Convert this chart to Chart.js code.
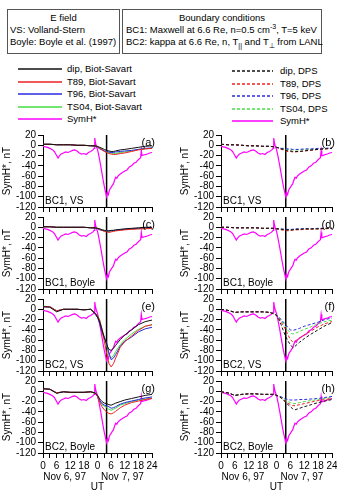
<!DOCTYPE html>
<html>
<head>
<meta charset="utf-8">
<script src="https://cdn.jsdelivr.net/npm/chart.js@4.4.1/dist/chart.umd.min.js"></script>
<style>
    body {
        margin: 0;
        width: 337px;
        height: 495px;
        position: relative;
        overflow: hidden;
        background: #fff;
        font-family: 'Liberation Sans', Arial, sans-serif;
        color: #000;
    }
    .box {
        position: absolute;
        top: 9px;
        height: 41px;
        border: 1px solid #555;
        font-size: 9.5px;
        line-height: 12px;
        padding-top: 2px;
        box-sizing: content-box;
        white-space: nowrap;
    }
    .box sup, .box sub { font-size: 7px; line-height: 0; }
    .leg {
        position: absolute;
        font-size: 9.5px;
        line-height: 12px;
        white-space: nowrap;
    }
    .leg svg { position: absolute; top: 0; }
    .leg span { position: absolute; top: -6px; }
    .panel { position: absolute; }
</style>
</head>
<body>
<div class="box" style="left:7px;width:111px;">
    <div style="text-align:center">E field</div>
    <div style="padding-left:2px">VS: Volland-Stern</div>
    <div style="padding-left:2px">Boyle: Boyle et al. (1997)</div>
</div>
<div class="box" style="left:122px;width:198px;">
    <div style="text-align:center">Boundary conditions</div>
    <div style="padding-left:3px">BC1: Maxwell at 6.6 Re, n=0.5 cm<sup>-3</sup>, T=5 keV</div>
    <div style="padding-left:3px">BC2: kappa at 6.6 Re, n, T<sub>||</sub> and T<sub>⊥</sub> from LANL</div>
</div>
<div id="legends"></div>

<div class="panel" style="left:0;top:127px"><canvas id="pa" width="170" height="88"></canvas></div>
<div class="panel" style="left:178px;top:127px"><canvas id="pb" width="170" height="88"></canvas></div>
<div class="panel" style="left:0;top:209px"><canvas id="pc" width="170" height="88"></canvas></div>
<div class="panel" style="left:178px;top:209px"><canvas id="pd" width="170" height="88"></canvas></div>
<div class="panel" style="left:0;top:291px"><canvas id="pe" width="170" height="88"></canvas></div>
<div class="panel" style="left:178px;top:291px"><canvas id="pf" width="170" height="88"></canvas></div>
<div class="panel" style="left:0;top:373px"><canvas id="pg" width="170" height="130"></canvas></div>
<div class="panel" style="left:178px;top:373px"><canvas id="ph" width="170" height="130"></canvas></div>

<script>
// hours from 0 UT Nov 6, 1997
const hours = [0, 3, 6, 9, 12, 15, 18, 21, 23, 24, 25, 26, 27, 28, 29, 30, 31, 32, 34, 36, 39, 42, 45, 48]

// observed SymH*
const symT = [0, 1, 2, 3, 4, 5, 5.5, 6, 6.6, 7, 7.5, 8, 9, 10, 11, 12, 13, 14, 15, 16, 17, 18, 19, 20, 21, 22,
    22.5, 22.8, 23.1, 23.5, 24, 24.5, 25, 25.5, 26, 26.5, 27, 27.5, 28, 28.4, 28.8, 29.2, 29.6, 30,
    30.5, 31, 31.5, 32, 32.5, 33, 34, 35, 36, 37, 38, 39, 40, 41, 42, 42.5, 43, 43.3, 43.6, 44, 45, 46, 47, 48]
const symH = [-2, -3, -4, -6, -8, -12, -16, -20, -25, -22, -19, -17, -15, -13, -14, -12, -10, -9, -11, -15, -17, -16, -18, -14, -12, -9,
    -6, 14, 5, -2, -8, -18, -30, -42, -55, -68, -80, -90, -100, -92, -96, -88, -84, -82,
    -78, -75, -68, -62, -64, -60, -56, -53, -50, -48, -42, -40, -35, -33, -28, -26, -24, -10, -20, -20, -18, -17, -15, -14]

// storm marker
const eventHour = [28]

// (a) BC1, VS, Biot-Savart
const dipA = [2, 2, 1, 1, 1, 0, 0, -1, -1, -2, -4, -6, -8, -10, -11, -12, -12, -11, -9, -8, -6, -4, -2, -1]
const t89A = [2, 2, 1, 1, 1, 0, 0, -1, -1, -3, -6, -9, -12, -14, -16, -17, -18, -18, -16, -15, -12, -9, -7, -6]
const t96A = [2, 2, 1, 1, 1, 0, 0, -1, -2, -4, -7, -9, -11, -12, -13, -14, -14, -13, -12, -11, -10, -8, -6, -5]
const ts04A = [2, 2, 1, 1, 1, 0, 0, -1, -1, -3, -5, -8, -11, -13, -14, -15, -16, -16, -14, -13, -11, -8, -7, -6]
// (b) BC1, VS, DPS
const dipB = [2, 1, 1, 0, -1, -1, -2, -2, -3, -4, -5, -7, -8, -10, -11, -11, -12, -12, -12, -11, -9, -8, -7, -6]
const t89B = [2, 1, 1, 0, -1, -1, -2, -2, -3, -4, -6, -8, -9, -11, -12, -12, -13, -13, -12, -11, -10, -8, -7, -6]
const t96B = [2, 1, 1, 0, -1, -1, -2, -2, -3, -4, -5, -6, -6, -7, -7, -7, -8, -8, -8, -7, -7, -6, -6, -5]
const ts04B = [2, 1, 1, 0, -1, -1, -2, -2, -3, -4, -5, -6, -7, -8, -8, -9, -9, -9, -9, -8, -8, -7, -6, -6]
// (c) BC1, Boyle, Biot-Savart
const dipC = [1, 1, 0, 0, 0, 0, 0, -1, -1, -2, -3, -5, -6, -7, -7, -6, -6, -5, -4, -3, -2, -1, 0, 0]
const t89C = [1, 1, 0, 0, 0, 0, 0, -1, -1, -2, -4, -6, -8, -9, -10, -9, -8, -7, -6, -5, -4, -3, -3, -2]
const t96C = [1, 1, 0, 0, 0, 0, 0, -1, -2, -3, -5, -6, -7, -7, -7, -7, -6, -6, -5, -4, -3, -2, -1, -1]
const ts04C = [1, 1, 0, 0, 0, 0, 0, -1, -1, -2, -4, -5, -6, -7, -8, -7, -7, -6, -5, -4, -3, -3, -2, -2]
// (d) BC1, Boyle, DPS
const dipD = [0, 0, -1, -1, -1, -1, -2, -2, -2, -3, -3, -4, -4, -5, -5, -5, -5, -4, -4, -3, -3, -3, -2, -2]
const t89D = [0, 0, -1, -1, -1, -1, -2, -2, -2, -3, -4, -5, -6, -6, -7, -6, -6, -5, -5, -4, -4, -3, -3, -2]
const t96D = [0, 0, -1, -1, -1, -1, -2, -2, -2, -3, -3, -3, -4, -4, -4, -4, -4, -3, -3, -3, -3, -2, -2, -2]
const ts04D = [0, 0, -1, -1, -1, -1, -2, -2, -2, -3, -3, -4, -4, -4, -5, -5, -4, -4, -4, -3, -3, -3, -2, -2]
// (e) BC2, VS, Biot-Savart
const dipE = [5, 4, -5, 0, 0, 0, -1, 0, -8, -15, -25, -40, -55, -68, -78, -80, -76, -70, -59, -50, -40, -30, -24, -21]
const t89E = [5, 5, -3, 0, 0, 0, -1, 0, -8, -12, -22, -40, -62, -85, -105, -112, -106, -95, -74, -63, -52, -41, -33, -30]
const t96E = [5, 5, -3, 0, 0, 0, -1, 0, -10, -16, -28, -45, -55, -65, -85, -98, -95, -88, -72, -62, -54, -44, -38, -35]
const ts04E = [6, 5, -3, 0, 0, 0, -1, 0, -8, -12, -22, -38, -55, -70, -88, -95, -90, -82, -69, -59, -48, -39, -33, -30]
// (f) BC2, VS, DPS
const dipF = [0, -2, -6, -5, -5, -5, -5, -6, -9, -12, -20, -30, -42, -53, -62, -69, -74, -72, -64, -57, -48, -40, -32, -26]
const t89F = [0, -2, -6, -5, -5, -5, -5, -6, -9, -12, -18, -25, -32, -40, -50, -59, -63, -62, -56, -50, -42, -34, -28, -24]
const t96F = [0, -2, -6, -5, -5, -5, -5, -6, -9, -11, -15, -20, -25, -30, -36, -40, -41, -40, -37, -33, -29, -25, -20, -17]
const ts04F = [0, -2, -6, -5, -5, -5, -5, -6, -9, -11, -16, -22, -28, -34, -41, -46, -48, -47, -43, -39, -34, -28, -24, -21]
// (g) BC2, Boyle, Biot-Savart
const dipG = [5, 4, -4, -1, -2, -2, -2, -1, -3, -8, -15, -20, -23, -24, -26, -27, -25, -23, -20, -17, -14, -11, -8, -6]
const t89G = [5, 4, -3, -1, -2, -2, -2, -1, -4, -10, -22, -30, -36, -40, -43, -44, -42, -39, -32, -27, -22, -19, -16, -14]
const t96G = [5, 4, -3, -1, -2, -2, -2, -1, -4, -10, -18, -24, -27, -28, -30, -33, -32, -30, -25, -22, -19, -16, -13, -11]
const ts04G = [5, 4, -3, -1, -2, -2, -2, -1, -3, -10, -19, -26, -29, -31, -35, -37, -35, -33, -27, -24, -20, -17, -15, -13]
// (h) BC2, Boyle, DPS
const dipH = [-1, -3, -8, -6, -5, -5, -6, -6, -6, -8, -10, -13, -17, -22, -26, -30, -34, -36, -33, -30, -26, -22, -19, -16]
const t89H = [-1, -3, -8, -6, -5, -5, -6, -6, -6, -8, -10, -13, -16, -20, -23, -26, -28, -28, -26, -24, -21, -18, -16, -14]
const t96H = [-1, -3, -8, -6, -5, -5, -6, -6, -6, -8, -9, -11, -13, -15, -16, -17, -17, -17, -16, -16, -15, -14, -12, -10]
const ts04H = [-1, -3, -8, -6, -5, -5, -6, -6, -6, -8, -9, -11, -14, -17, -20, -22, -24, -24, -22, -20, -18, -16, -14, -12]

const modelNames = ['dip', 'T89', 'T96', 'TS04']
const modelColors = ['#111111', '#ee2222', '#2a2ae0', '#44dd44']
const symColor = '#ff00ff'
const dayLabels = ['Nov 6, 97', 'Nov 7, 97']
const dayCenters = [9.5, 35]

const FONT = "'Liberation Sans', Arial, sans-serif"
Chart.defaults.font.family = FONT
Chart.defaults.font.size = 10
Chart.defaults.color = '#000'

// legends (html)
function legend(x, names, dashed) {
    const el = document.getElementById('legends')
    names.forEach((n, i) => {
        const y = (dashed ? 71 : 69) + i * 12.5
        const div = document.createElement('div')
        div.className = 'leg'
        div.style.left = x + 'px'
        div.style.top = y + 'px'
        const w = dashed ? 41 : 44
        const col = i < 4 ? modelColors[i] : symColor
        const dash = dashed && i < 4 ? 'stroke-dasharray="3,2"' : ''
        div.innerHTML = '<svg width="' + w + '" height="2" style="top:-1px"><line x1="0" y1="1" x2="' + w + '" y2="1" stroke="' + col + '" stroke-width="1.3" ' + dash + '/></svg>' +
            '<span style="left:' + (w + (dashed ? 7 : 5)) + 'px">' + n + '</span>'
        el.appendChild(div)
    })
}
legend(18, modelNames.map((m) => m + ', Biot-Savart').concat(['SymH*']), false)
legend(232, modelNames.map((m) => m + ', DPS').concat(['SymH*']), true)

function annot(letter, caption, bottom) {
    return {
        id: 'annot',
        afterDraw(chart) {
            const { ctx, chartArea: a } = chart
            ctx.save()
            ctx.fillStyle = '#000'
            ctx.font = '11px ' + FONT
            ctx.textAlign = 'right'
            ctx.textBaseline = 'top'
            ctx.fillText(letter, a.right + 3, a.top + 2)
            ctx.font = '10px ' + FONT
            ctx.textAlign = 'left'
            ctx.textBaseline = 'bottom'
            ctx.fillText(caption, a.left + 2, a.bottom - 1)
            if (bottom) {
                const xs = chart.scales.x
                ctx.textAlign = 'center'
                ctx.textBaseline = 'middle'
                dayLabels.forEach((d, i) => ctx.fillText(d, xs.getPixelForValue(dayCenters[i]), a.bottom + 24))
                ctx.fillText('UT', (a.left + a.right) / 2, a.bottom + 34)
            }
            ctx.restore()
        },
    }
}

function panel(id, series, dashed, letter, caption, bottom, rightCol) {
    const datasets = series.map((s, i) => ({
        data: hours.map((h, j) => ({ x: h, y: s[j] })),
        borderColor: modelColors[i],
        borderWidth: 1,
        borderDash: dashed ? [3, 2] : [],
        pointRadius: 0,
    }))
    datasets.push({
        data: symT.map((t, j) => ({ x: t, y: symH[j] })),
        borderColor: symColor,
        borderWidth: 1.2,
        pointRadius: 0,
    })
    datasets.push({
        data: [{ x: eventHour[0], y: 20 }, { x: eventHour[0], y: -120 }],
        borderColor: '#000',
        borderWidth: 1.5,
        pointRadius: 0,
    })
    new Chart(document.getElementById(id), {
        type: 'line',
        data: { datasets: datasets },
        options: {
            responsive: false,
            animation: false,
            events: [],
            layout: { padding: { top: 8, right: rightCol ? 16 : 18, left: 0, bottom: bottom ? 30 : 2 } },
            plugins: { legend: { display: false }, tooltip: { enabled: false } },
            scales: {
                x: {
                    type: 'linear',
                    min: 0,
                    max: 48,
                    afterBuildTicks: (s) => {
                        s.ticks = []
                        for (let v = 0; v <= 48; v += 3) s.ticks.push({ value: v })
                    },
                    ticks: {
                        display: bottom,
                        autoSkip: false,
                        maxRotation: 0,
                        padding: 2,
                        callback: (v) => (v % 6 === 0 ? (v === 48 ? '24' : String(v % 24)) : ''),
                    },
                    grid: { drawOnChartArea: false, tickLength: 5, color: '#000' },
                    border: { color: '#000' },
                    afterFit: (s) => { s.height = bottom ? 20 : 6 },
                },
                y: {
                    min: -120,
                    max: 20,
                    ticks: { stepSize: 20, autoSkip: false, padding: 2 },
                    grid: { drawOnChartArea: false, tickLength: 5, color: '#000' },
                    border: { color: '#000' },
                    title: { display: true, text: 'SymH*, nT', padding: { top: 1, bottom: 1 } },
                    afterFit: (s) => { s.width = 43 },
                },
            },
        },
        plugins: [annot(letter, caption, bottom)],
    })
}

panel('pa', [dipA, t89A, t96A, ts04A], false, '(a)', 'BC1, VS', false, false)
panel('pb', [dipB, t89B, t96B, ts04B], true, '(b)', 'BC1, VS', false, true)
panel('pc', [dipC, t89C, t96C, ts04C], false, '(c)', 'BC1, Boyle', false, false)
panel('pd', [dipD, t89D, t96D, ts04D], true, '(d)', 'BC1, Boyle', false, true)
panel('pe', [dipE, t89E, t96E, ts04E], false, '(e)', 'BC2, VS', false, false)
panel('pf', [dipF, t89F, t96F, ts04F], true, '(f)', 'BC2, VS', false, true)
panel('pg', [dipG, t89G, t96G, ts04G], false, '(g)', 'BC2, Boyle', true, false)
panel('ph', [dipH, t89H, t96H, ts04H], true, '(h)', 'BC2, Boyle', true, true)
</script>
</body>
</html>
